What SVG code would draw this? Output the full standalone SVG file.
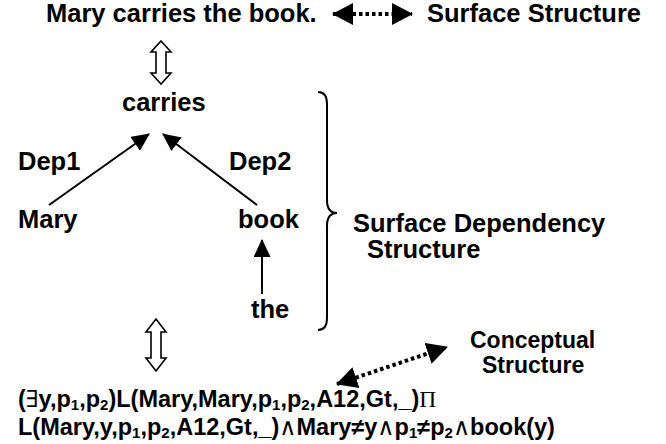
<svg xmlns="http://www.w3.org/2000/svg" width="666" height="444" viewBox="0 0 666 444">
<defs>
<style>
text{font-family:"Liberation Sans",Arial,sans-serif;font-weight:bold;fill:#000}
.big{font-size:25.5px}
.mid{font-size:23px}
.f{font-size:23.5px}
.sym{font-family:"Liberation Serif","DejaVu Serif",serif;font-weight:normal}
.sub{font-size:15px}
.solid{stroke:#000;stroke-width:2;fill:none}
.dot{stroke:#000;stroke-width:4;fill:none;stroke-dasharray:3.5 3}
.hollow{stroke:#000;stroke-width:1.6;fill:#fff}
</style>
<marker id="head" viewBox="0 0 18 17" refX="17" refY="8.5" markerWidth="18" markerHeight="17" markerUnits="userSpaceOnUse" orient="auto">
<path d="M0,0 L18,8.5 L0,17 Z" fill="#000"/>
</marker>
<marker id="bigHead" viewBox="0 0 21 22" refX="20" refY="11" markerWidth="21" markerHeight="22" markerUnits="userSpaceOnUse" orient="auto-start-reverse">
<path d="M0,0 L21,11 L0,22 Z" fill="#000"/>
</marker>
</defs>

<g id="sentence"><text class="big" x="46" y="22">Mary carries the book.</text></g>
<g id="surface-structure"><text class="big" x="427" y="22">Surface Structure</text></g>
<g id="carries"><text class="big" x="122" y="111">carries</text></g>
<g id="dep1"><text class="big" x="18" y="170">Dep1</text></g>
<g id="dep2"><text class="big" x="229" y="170">Dep2</text></g>
<g id="mary"><text class="big" x="18" y="228">Mary</text></g>
<g id="book"><text class="big" x="238" y="228">book</text></g>
<g id="the"><text class="big" x="251" y="318">the</text></g>
<g id="surface-dependency"><text class="big" x="353" y="232">Surface Dependency</text><text class="big" x="367" y="258">Structure</text></g>
<g id="conceptual"><text class="mid" x="470" y="348">Conceptual</text><text class="mid" x="482" y="373">Structure</text></g>
<g id="formula">
<text class="f" x="18" y="407">(<tspan class="sym">∃</tspan>y,p<tspan class="sub" dy="3">1</tspan><tspan dy="-3">,p</tspan><tspan class="sub" dy="3">2</tspan><tspan dy="-3">)L(Mary,Mary,p</tspan><tspan class="sub" dy="3">1</tspan><tspan dy="-3">,p</tspan><tspan class="sub" dy="3">2</tspan><tspan dy="-3">,A12,Gt,_)</tspan><tspan class="sym">Π</tspan></text>
<text class="f" x="18" y="435">L(Mary,y,p<tspan class="sub" dy="3">1</tspan><tspan dy="-3">,p</tspan><tspan class="sub" dy="3">2</tspan><tspan dy="-3">,A12,Gt,_)</tspan><tspan class="sym">∧</tspan>Mary≠y<tspan class="sym">∧</tspan>p<tspan class="sub" dy="3">1</tspan><tspan dy="-3">≠p</tspan><tspan class="sub" dy="3">2</tspan><tspan class="sym" dy="-3">∧</tspan>book(y)</text>
</g>

<g id="connectors">
<line class="dot" x1="333" y1="14" x2="412" y2="14" marker-start="url(#bigHead)" marker-end="url(#bigHead)"/>
<line class="dot" x1="337" y1="384" x2="447" y2="347" marker-start="url(#bigHead)" marker-end="url(#bigHead)"/>
<path class="hollow" d="M161,41 L171,52 L166,52 L166,73 L171,73 L161,84 L151,73 L156,73 L156,52 L151,52 Z"/>
<path class="hollow" d="M156,319 L166,332 L161,332 L161,358 L166,358 L156,371 L146,358 L151,358 L151,332 L146,332 Z"/>
<line class="solid" x1="49" y1="205" x2="149" y2="134" marker-end="url(#head)"/>
<line class="solid" x1="257" y1="205" x2="163" y2="134" marker-end="url(#head)"/>
<line class="solid" x1="262" y1="294" x2="262" y2="240" marker-end="url(#head)"/>
<path class="solid" d="M318,92 Q327,92 327,104 L327,200 Q327,213 337,213 Q327,213 327,226 L327,318 Q327,330 318,330"/>
</g>
</svg>
